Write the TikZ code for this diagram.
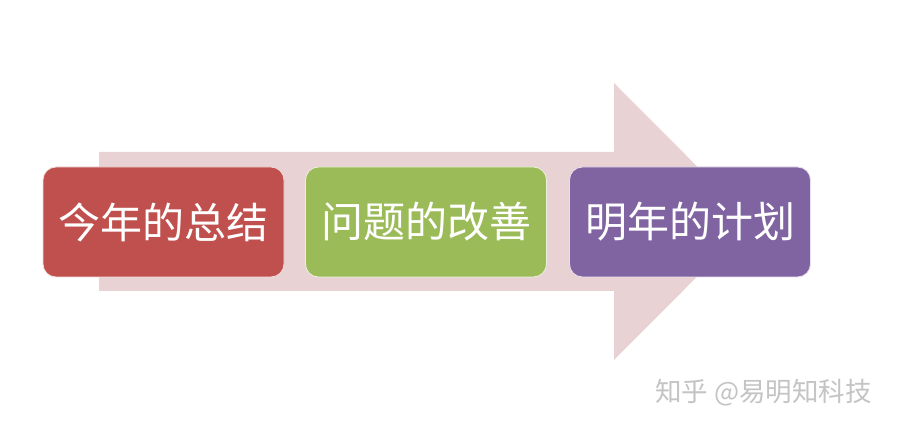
\documentclass[tikz,border=0pt]{standalone}
\usepackage{fontspec}
\newfontfamily\cjk{Noto Sans CJK SC}
\definecolor{arrowpink}{HTML}{E8D2D3}
\definecolor{boxred}{HTML}{C0504D}
\definecolor{boxgreen}{HTML}{9BBB59}
\definecolor{boxpurple}{HTML}{8064A2}
\definecolor{wmgray}{HTML}{C4C4C4}
\tikzset{
  stagebox/.style={draw=white!80!#1, line width=0.8pt, fill=#1, rounded corners=13pt,
    minimum width=241pt, minimum height=110pt, inner sep=0pt,
    text=white, font=\cjk\fontsize{42}{42}\selectfont},
}
\begin{document}
\begin{tikzpicture}[x=1pt,y=-1pt]
\useasboundingbox (0,0) rectangle (900,430);
\fill[white] (0,0) rectangle (900,430);
\fill[arrowpink] (99,152) -- (614,152) -- (614,83) -- (752,221.5) -- (614,360) -- (614,291) -- (99,291) -- cycle;
\node[stagebox=boxred] (a) at (163.5,222) {今年的总结};
\node[stagebox=boxgreen] (b) at (426,222) {问题的改善};
\node[stagebox=boxpurple] (c) at (690,222) {明年的计划};
\node[text=wmgray, font=\cjk\fontsize{26.5}{26.5}\selectfont, anchor=west, inner sep=0pt] (wm) at (655,393) {知乎 @易明知科技};
\end{tikzpicture}
\end{document}
